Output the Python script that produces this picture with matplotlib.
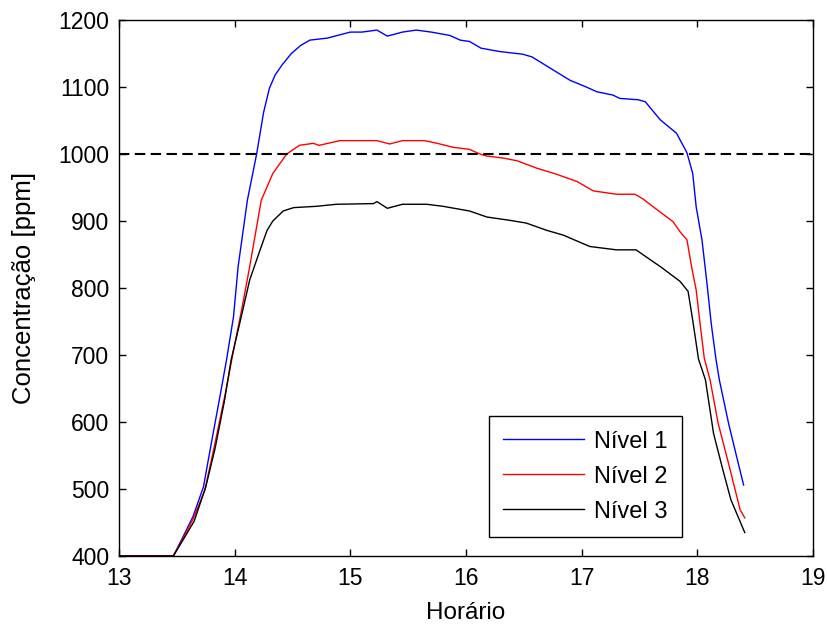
import matplotlib
matplotlib.use("Agg")
import matplotlib.pyplot as plt

# hour of day vs CO2 concentration (ppm)
x_n1 = [13.0, 13.47, 13.54, 13.64, 13.73, 13.80, 13.88, 13.93, 13.99, 14.03, 14.11, 14.19,
        14.25, 14.30, 14.35, 14.41, 14.49, 14.57, 14.65, 14.80, 15.00, 15.10, 15.23, 15.32,
        15.45, 15.57, 15.70, 15.86, 15.95, 16.03, 16.13, 16.29, 16.49, 16.57, 16.73, 16.90,
        17.04, 17.13, 17.27, 17.33, 17.49, 17.55, 17.68, 17.82, 17.91, 17.96, 17.99, 18.04,
        18.08, 18.12, 18.16, 18.19, 18.27, 18.34, 18.40]
y_n1 = [400, 400, 424, 459, 503, 570, 645, 693, 757, 832, 931, 1000,
        1062, 1098, 1118, 1133, 1150, 1162, 1170, 1173, 1182, 1182, 1185, 1176,
        1182, 1185, 1182, 1177, 1170, 1168, 1158, 1153, 1149, 1145, 1128, 1110,
        1100, 1093, 1088, 1083, 1081, 1078, 1051, 1031, 1002, 971, 921, 872,
        812, 747, 695, 663, 598, 548, 506]

x_n2 = [13.0, 13.47, 13.54, 13.64, 13.74, 13.82, 13.92, 13.99, 14.06, 14.13, 14.23, 14.33,
        14.45, 14.56, 14.68, 14.73, 14.91, 15.23, 15.34, 15.45, 15.64, 15.75, 15.89, 16.03,
        16.12, 16.18, 16.32, 16.44, 16.61, 16.78, 16.96, 17.10, 17.30, 17.46, 17.53, 17.62,
        17.79, 17.85, 17.91, 17.95, 17.99, 18.02, 18.06, 18.11, 18.18, 18.27, 18.37, 18.41]
y_n2 = [400, 400, 422, 455, 497, 560, 643, 707, 767, 832, 931, 971,
        1000, 1013, 1016, 1013, 1020, 1020, 1015, 1020, 1020, 1016, 1010, 1007,
        1000, 997, 994, 990, 979, 970, 959, 945, 940, 940, 933, 921,
        899, 884, 872, 832, 797, 752, 695, 663, 598, 538, 469, 457]

x_n3 = [13.0, 13.47, 13.54, 13.65, 13.75, 13.83, 13.91, 13.97, 14.05, 14.13, 14.22, 14.28,
        14.33, 14.42, 14.51, 14.71, 14.88, 15.20, 15.23, 15.32, 15.45, 15.66, 15.80, 16.03,
        16.18, 16.38, 16.52, 16.70, 16.84, 17.07, 17.30, 17.47, 17.62, 17.68, 17.85, 17.92,
        17.96, 18.01, 18.07, 18.14, 18.22, 18.29, 18.41]
y_n3 = [400, 400, 420, 452, 503, 560, 630, 693, 752, 812, 857, 886,
        900, 915, 920, 922, 925, 926, 929, 919, 925, 925, 922, 915,
        906, 901, 897, 886, 879, 862, 857, 857, 839, 832, 810, 795,
        752, 694, 663, 583, 529, 484, 435]

labels = ["Nível 1", "Nível 2", "Nível 3"]
limite = 1000

plt.rcParams['font.family'] = ['Liberation Sans', 'DejaVu Sans']

fig = plt.figure(figsize=(8.28, 6.26), dpi=100)
ax = fig.add_axes([0.1437, 0.1118, 0.8382, 0.8562])

ax.plot(x_n1, y_n1, color='#0000ff', lw=1.0, label=labels[0])
ax.plot(x_n2, y_n2, color='#ff0000', lw=1.0, label=labels[1])
ax.plot(x_n3, y_n3, color='black', lw=1.0, label=labels[2])
ax.axhline(limite, color='black', lw=1.5, linestyle=(0, (5.0, 2.6)))

ax.set_xlim(13, 19)
ax.set_ylim(400, 1200)
ax.set_xticks(range(13, 20))
ax.set_yticks(range(400, 1201, 100))
ax.tick_params(direction='in', top=True, right=True, length=5, width=1,
               labelsize=16.5)
ax.tick_params(axis='x', pad=8)
ax.tick_params(axis='y', pad=7)
for s in ax.spines.values():
    s.set_linewidth(1.0)

ax.set_xlabel('Horário', fontsize=17.5)
ax.set_ylabel('Concentração [ppm]', fontsize=18.5)
ax.xaxis.set_label_coords(0.5, -0.106)
ax.xaxis.label.set_va('center')
ax.yaxis.set_label_coords(-0.137, 0.5)
ax.yaxis.label.set_va('center')

leg = ax.legend(loc='lower right', bbox_to_anchor=(0.811, 0.036), borderaxespad=0,
                fontsize=17, handlelength=3.4, handletextpad=0.45, labelspacing=0.55,
                borderpad=0.6, fancybox=False, framealpha=1, edgecolor='black')
leg.get_frame().set_linewidth(1.0)

fig.savefig('out.png', dpi=100)
